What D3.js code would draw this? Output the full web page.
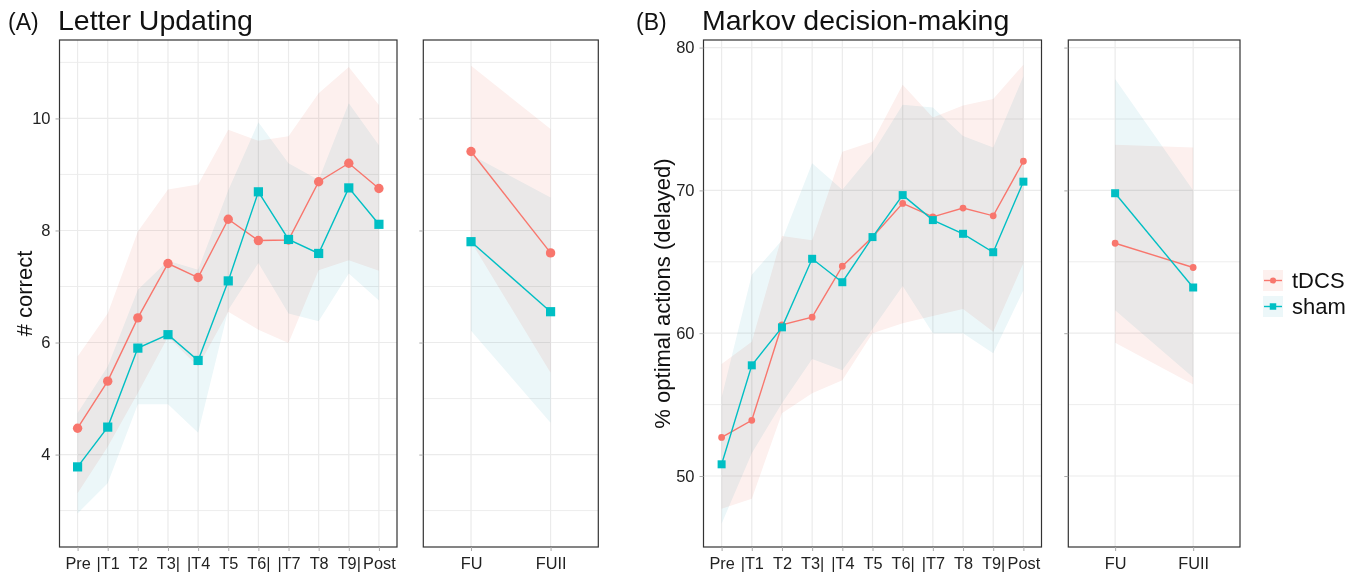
<!DOCTYPE html>
<html>
<head>
<meta charset="utf-8">
<script src="https://cdn.jsdelivr.net/npm/d3@7"></script>
<style>
  body { margin: 0; background: #fff; }
  svg { font-family: "Liberation Sans", Arial, Helvetica, sans-serif; }
  .ribbon { mix-blend-mode: multiply; }
</style>
</head>
<body>
<svg id="chart" width="1367" height="577"></svg>
<script>
// categories
const sessions = ['Pre', '|T1', 'T2', 'T3|', '|T4', 'T5', 'T6|', '|T7', 'T8', 'T9|', 'Post'];
const followups = ['FU', 'FUII'];
const groups = ['tDCS', 'sham'];

// (A) Letter Updating, # correct
const luTdcsMean = [4.47, 5.31, 6.44, 7.41, 7.16, 8.20, 7.82, 7.83, 8.87, 9.20, 8.75];
const luTdcsLo   = [3.31, 4.14, 5.10, 6.10, 5.57, 6.55, 6.23, 5.99, 7.29, 7.47, 7.28];
const luTdcsHi   = [5.75, 6.52, 7.98, 8.73, 8.82, 9.80, 9.60, 9.68, 10.45, 10.92, 10.24];
const luShamMean = [3.78, 4.49, 5.90, 6.14, 5.68, 7.10, 8.69, 7.84, 7.59, 8.76, 8.11];
const luShamLo   = [2.95, 3.49, 4.90, 4.90, 4.39, 6.58, 7.42, 6.52, 6.38, 7.23, 6.75];
const luShamHi   = [4.74, 5.57, 6.94, 7.46, 7.30, 8.72, 9.93, 9.20, 8.90, 10.27, 9.52];

const luTdcsFuMean = [9.41, 7.60];
const luTdcsFuLo   = [7.80, 5.46];
const luTdcsFuHi   = [10.94, 9.81];
const luShamFuMean = [7.80, 6.55];
const luShamFuLo   = [6.21, 4.57];
const luShamFuHi   = [9.35, 8.59];

const luTicks = [4, 6, 8, 10];
const luMinor = [3, 5, 7, 9, 11];

// (B) Markov decision-making, % optimal actions (delayed)
const mdTdcsMean = [52.7, 53.9, 60.58, 61.12, 64.69, 66.73, 69.09, 68.15, 68.76, 68.22, 72.04];
const mdTdcsLo   = [47.71, 48.4, 54.4, 55.8, 56.7, 60.0, 60.7, 61.2, 61.7, 60.1, 64.9];
const mdTdcsHi   = [57.84, 59.4, 66.8, 66.5, 72.7, 73.4, 77.4, 75.1, 75.95, 76.4, 78.8];
const mdShamMean = [50.82, 57.75, 60.41, 65.21, 63.57, 66.73, 69.67, 67.92, 66.96, 65.67, 70.61];
const mdShamLo   = [46.66, 51.6, 55.1, 58.2, 57.4, 60.3, 63.3, 60.0, 60.0, 58.6, 63.0];
const mdShamHi   = [55.5, 64.1, 66.5, 71.9, 70.05, 72.6, 76.0, 75.8, 73.8, 73.0, 78.0];

const mdTdcsFuMean = [66.3, 64.6];
const mdTdcsFuLo   = [59.34, 56.4];
const mdTdcsFuHi   = [73.2, 73.0];
const mdShamFuMean = [69.8, 63.2];
const mdShamFuLo   = [61.6, 56.9];
const mdShamFuHi   = [77.8, 70.0];

const mdTicks = [50, 60, 70, 80];
const mdMinor = [55, 65, 75];

const colTdcs = '#F8766D', colSham = '#00BFC4';
const fillTdcs = '#FDF0EE', fillSham = '#ECF7F9';

let svg = d3.select('#chart');

const panelTop = 40, panelBottom = 547;

let luY = d3.scaleLinear().domain([2.35, 11.40]).range([panelBottom, panelTop]);
let mdY = d3.scaleLinear().domain([45.03, 80.53]).range([panelBottom, panelTop]);

// one panel: box, grid, ribbons, lines, points
let drawPanel = (x0, x1, cats, yScale, ticks, minor, series, showLabels, ptSize) => {
    let x = d3.scalePoint().domain(cats).range([x0, x1]).padding(0.6);
    let g = svg.append('g');

    g.selectAll(null).data(minor).enter().append('line')
        .attr('x1', x0).attr('x2', x1)
        .attr('y1', d => yScale(d)).attr('y2', d => yScale(d))
        .attr('stroke', '#EBEBEB').attr('stroke-width', 0.9);
    g.selectAll(null).data(ticks).enter().append('line')
        .attr('x1', x0).attr('x2', x1)
        .attr('y1', d => yScale(d)).attr('y2', d => yScale(d))
        .attr('stroke', '#EBEBEB').attr('stroke-width', 1.2);
    g.selectAll(null).data(cats).enter().append('line')
        .attr('x1', d => x(d)).attr('x2', d => x(d))
        .attr('y1', panelTop).attr('y2', panelBottom)
        .attr('stroke', '#EBEBEB').attr('stroke-width', 1.2);

    series.forEach(s => {
        let area = d3.area()
            .x((d, i) => x(cats[i]))
            .y0((d, i) => yScale(s.lo[i]))
            .y1((d, i) => yScale(s.hi[i]));
        g.append('path')
            .attr('class', 'ribbon')
            .attr('d', area(s.mean))
            .attr('fill', s.fill);
    });

    series.forEach(s => {
        let line = d3.line()
            .x((d, i) => x(cats[i]))
            .y(d => yScale(d));
        g.append('path')
            .attr('d', line(s.mean))
            .attr('fill', 'none')
            .attr('stroke', s.color)
            .attr('stroke-width', 1.4);
        let sym = d3.symbol()
            .type(s.shape === 'square' ? d3.symbolSquare : d3.symbolCircle)
            .size(s.shape === 'square' ? ptSize.sq * ptSize.sq : Math.PI * ptSize.r * ptSize.r);
        g.selectAll(null).data(s.mean).enter().append('path')
            .attr('d', sym)
            .attr('transform', (d, i) => 'translate(' + x(cats[i]) + ',' + yScale(d) + ')')
            .attr('fill', s.color);
    });

    g.append('rect')
        .attr('x', x0).attr('y', panelTop)
        .attr('width', x1 - x0).attr('height', panelBottom - panelTop)
        .attr('fill', 'none')
        .attr('stroke', '#333333')
        .attr('stroke-width', 1.2);

    let yAxis = d3.axisLeft(yScale).tickValues(ticks).tickSize(4).tickPadding(5);
    if (!showLabels) yAxis.tickFormat('');
    let ya = g.append('g')
        .attr('transform', 'translate(' + x0 + ',0)')
        .call(yAxis);
    ya.select('.domain').remove();
    ya.selectAll('line').attr('stroke', '#AAAAAA');
    ya.selectAll('text').attr('fill', '#222').style('font-size', '16.5px');

    let xa = g.append('g')
        .attr('transform', 'translate(0,' + panelBottom + ')')
        .call(d3.axisBottom(x).tickSize(4).tickPadding(6));
    xa.select('.domain').remove();
    xa.selectAll('line').attr('stroke', '#AAAAAA');
    xa.selectAll('text').attr('fill', '#222').style('font-size', '16.3px');
};

let luMain = [
    {mean: luTdcsMean, lo: luTdcsLo, hi: luTdcsHi, color: colTdcs, fill: fillTdcs, shape: 'circle'},
    {mean: luShamMean, lo: luShamLo, hi: luShamHi, color: colSham, fill: fillSham, shape: 'square'}
];
let luFu = [
    {mean: luTdcsFuMean, lo: luTdcsFuLo, hi: luTdcsFuHi, color: colTdcs, fill: fillTdcs, shape: 'circle'},
    {mean: luShamFuMean, lo: luShamFuLo, hi: luShamFuHi, color: colSham, fill: fillSham, shape: 'square'}
];
let mdMain = [
    {mean: mdTdcsMean, lo: mdTdcsLo, hi: mdTdcsHi, color: colTdcs, fill: fillTdcs, shape: 'circle'},
    {mean: mdShamMean, lo: mdShamLo, hi: mdShamHi, color: colSham, fill: fillSham, shape: 'square'}
];
let mdFu = [
    {mean: mdTdcsFuMean, lo: mdTdcsFuLo, hi: mdTdcsFuHi, color: colTdcs, fill: fillTdcs, shape: 'circle'},
    {mean: mdShamFuMean, lo: mdShamFuLo, hi: mdShamFuHi, color: colSham, fill: fillSham, shape: 'square'}
];

let bigPts = {r: 4.7, sq: 9.2};
let smallPts = {r: 3.4, sq: 8};

drawPanel(59.5, 397, sessions, luY, luTicks, luMinor, luMain, true, bigPts);
drawPanel(423.3, 598.3, followups, luY, luTicks, luMinor, luFu, false, bigPts);
drawPanel(703.5, 1041.5, sessions, mdY, mdTicks, mdMinor, mdMain, true, smallPts);
drawPanel(1068.3, 1240, followups, mdY, mdTicks, mdMinor, mdFu, false, smallPts);

// titles
svg.append('text').attr('x', 8).attr('y', 30).style('font-size', '23px').attr('fill', '#111').text('(A)');
svg.append('text').attr('x', 58).attr('y', 30).style('font-size', '28.5px').attr('fill', '#111').text('Letter Updating');
svg.append('text').attr('x', 636).attr('y', 30).style('font-size', '23px').attr('fill', '#111').text('(B)');
svg.append('text').attr('x', 702).attr('y', 30).style('font-size', '28.5px').attr('fill', '#111').text('Markov decision-making');

// axis titles
svg.append('text')
    .attr('transform', 'translate(32,' + (panelTop + panelBottom) / 2 + ') rotate(-90)')
    .attr('text-anchor', 'middle')
    .style('font-size', '22px').attr('fill', '#111')
    .text('# correct');
svg.append('text')
    .attr('transform', 'translate(670,' + (panelTop + panelBottom) / 2 + ') rotate(-90)')
    .attr('text-anchor', 'middle')
    .style('font-size', '22px').attr('fill', '#111')
    .text('% optimal actions (delayed)');

// legend
let legend = svg.append('g').attr('id', 'legend');
let keyCols = [colTdcs, colSham], keyFills = [fillTdcs, fillSham];
groups.forEach((name, i) => {
    let ky = 270 + i * 26;
    legend.append('rect')
        .attr('x', 1263).attr('y', ky)
        .attr('width', 20).attr('height', 21)
        .attr('fill', keyFills[i]);
    legend.append('line')
        .attr('x1', 1264).attr('x2', 1282)
        .attr('y1', ky + 10.5).attr('y2', ky + 10.5)
        .attr('stroke', keyCols[i]).attr('stroke-width', 1.4);
    legend.append('path')
        .attr('d', d3.symbol().type(i === 0 ? d3.symbolCircle : d3.symbolSquare).size(i === 0 ? 30 : 42)())
        .attr('transform', 'translate(1273,' + (ky + 10.5) + ')')
        .attr('fill', keyCols[i]);
    legend.append('text')
        .attr('x', 1292).attr('y', ky + 18)
        .style('font-size', '22px').attr('fill', '#111')
        .text(name);
});
</script>
</body>
</html>
